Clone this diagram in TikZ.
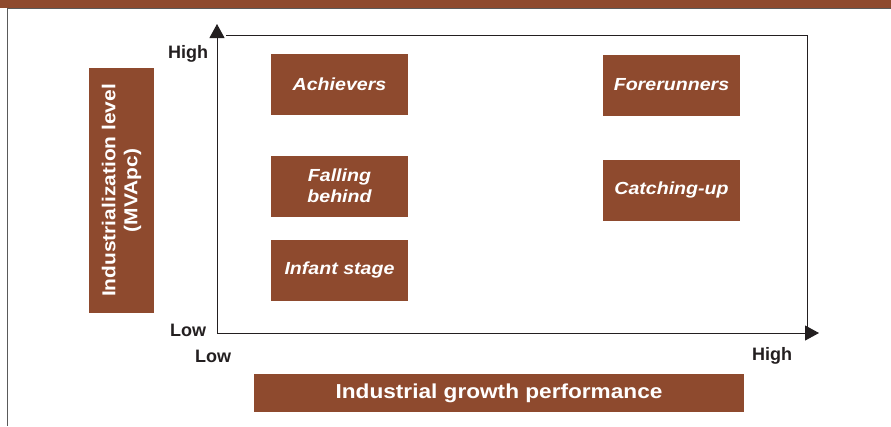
\documentclass[tikz,border=0pt]{standalone}
\usepackage{fontspec}
\setmainfont{Liberation Sans}
\newfontfamily\widefont{Liberation Sans}[FakeStretch=1.12]
\usetikzlibrary{arrows.meta}
\definecolor{brownfill}{RGB}{142,74,46}
\definecolor{ink}{RGB}{35,31,32}
\definecolor{framegray}{RGB}{90,90,90}
\tikzset{
  catbox/.style={fill=brownfill, text=white, minimum width=137pt, minimum height=61pt,
    inner sep=0pt, align=center,
    font=\widefont\bfseries\itshape\fontsize{17.5}{21}\selectfont},
  titlebox/.style={fill=brownfill, text=white, inner sep=0pt, align=center},
  axlabel/.style={text=ink, inner sep=0pt, font=\bfseries\fontsize{18}{21}\selectfont},
  axis/.style={draw=ink, line width=1pt, -{Triangle[length=14pt,width=15pt]}},
  frameline/.style={draw=ink, line width=0.8pt}
}
\begin{document}
\begin{tikzpicture}[x=1pt,y=-1pt]
\useasboundingbox (0,0) rectangle (891,426);
% top bar and outer frame
\fill[brownfill] (0,0) rectangle (891,8);
\draw[framegray, line width=1pt] (7,8.5) -- (891,8.5);
\draw[framegray, line width=1pt] (7,8) -- (7,426);
% axes
\coordinate (O) at (217,333);
\coordinate (ytip) at (217,24);
\coordinate (xtip) at (819,333);
\coordinate (tl) at (226,35);
\coordinate (tr) at (807,35);
\coordinate (br) at (807,333);
\draw[frameline] (tl) -- (tr) -- (br);
\draw[axis] (O) -- (ytip);
\draw[axis] (O) -- (xtip);
% axis labels
\node[axlabel] (yhigh) at (188,54) {High};
\node[axlabel] (ylow) at (188,330) {Low};
\node[axlabel] (xlow) at (213,356) {Low};
\node[axlabel] (xhigh) at (772,356) {High};
% category boxes
\node[catbox] (ach) at (339.5,84.5) {Achievers};
\node[catbox] (fore) at (671.5,85) {Forerunners};
\node[catbox] (fall) at (339.5,186) {Falling\\behind};
\node[catbox] (inf) at (339.5,270) {Infant stage};
\node[catbox] (catch) at (671.5,190) {Catching-up};
% axis titles
\node[titlebox, rotate=90, minimum width=245pt, minimum height=65pt,
  font=\widefont\bfseries\fontsize{18.7}{22}\selectfont] (ytitle) at (121.5,190.5)
  {Industrialization level\\(MVApc)};
\node[titlebox, minimum width=490pt, minimum height=38pt,
  font=\widefont\bfseries\fontsize{20.2}{24}\selectfont] (xtitle) at (499,393)
  {Industrial growth performance};
\end{tikzpicture}
\end{document}
